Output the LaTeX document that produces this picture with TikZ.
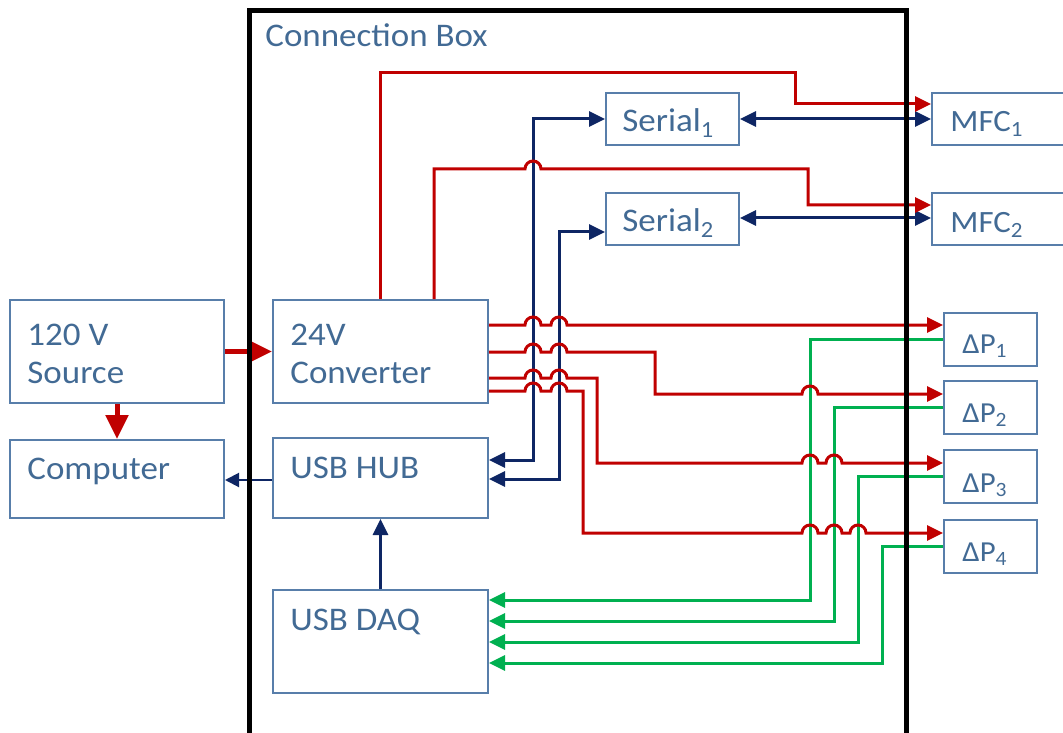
\documentclass[tikz,border=0pt]{standalone}
\usepackage{fontspec}
\setmainfont{Carlito}[FakeStretch=1.06]
\usetikzlibrary{arrows.meta}

\definecolor{boxline}{RGB}{88,126,170}
\definecolor{boxtext}{RGB}{66,106,148}
\definecolor{pwrred}{RGB}{192,0,0}
\definecolor{sigblue}{RGB}{14,38,100}
\definecolor{daqgreen}{RGB}{0,176,80}

\begin{document}
\begin{tikzpicture}[x=0.5pt,y=-0.5pt,
	>={Triangle[length=8pt,width=7.5pt]},
	blk/.style 2 args={draw=boxline,line width=1pt,inner sep=0pt,minimum width=#1,minimum height=#2},
	lbl/.style={text=boxtext,inner sep=0pt,align=left,font=\fontsize{16.5}{19}\selectfont},
	pwr/.style={draw=pwrred,line width=1.5pt},
	sig/.style={draw=sigblue,line width=1.5pt},
	meas/.style={draw=daqgreen,line width=1.5pt},
	hop/.style={insert path={arc[start angle=180,end angle=360,radius=8]}}]
	\useasboundingbox (0,0) rectangle (1063,732);
	\clip (0,0) rectangle (1063,732);

	% boxes
	\node[blk={107pt}{51.5pt}] (src) at (117,351.5) {};
	\node[blk={107pt}{39pt}] (comp) at (117,479) {};
	\node[blk={107.5pt}{51.5pt}] (conv) at (380.5,351.5) {};
	\node[blk={107.5pt}{40pt}] (hub) at (380.5,478) {};
	\node[blk={107.5pt}{51.5pt}] (daq) at (380.5,641.5) {};
	\node[blk={66.5pt}{26pt}] (ser1) at (672.5,119) {};
	\node[blk={66.5pt}{26pt}] (ser2) at (672.5,219) {};
	\node[blk={71pt}{26pt}] (mfc1) at (1003,119) {};
	\node[blk={71pt}{26pt}] (mfc2) at (1003,219) {};
	\node[blk={46.5pt}{26.5pt}] (dp1) at (990.5,339.5) {};
	\node[blk={46.5pt}{26.5pt}] (dp2) at (990.5,407.5) {};
	\node[blk={46.5pt}{26.5pt}] (dp3) at (990.5,476.5) {};
	\node[blk={46.5pt}{26.5pt}] (dp4) at (990.5,546) {};

	% labels
	\node[lbl,anchor=base west] (tbox) at (265,47) {Connection Box};
	\node[lbl,anchor=north west] (tsrc) at (27,324) {120 V\\Source};
	\node[lbl,anchor=base west] (tcomp) at (27,479) {Computer};
	\node[lbl,anchor=north west] (tconv) at (290,324) {24V\\Converter};
	\node[lbl,anchor=base west] (thub) at (290,478) {USB HUB};
	\node[lbl,anchor=base west] (tdaq) at (290,630) {USB DAQ};
	\node[lbl,anchor=base west] (tser1) at (622,132) {Serial\textsubscript{1}};
	\node[lbl,anchor=base west] (tser2) at (622,232) {Serial\textsubscript{2}};
	\node[lbl,anchor=base west,font=\fontsize{15.5}{18}\selectfont] (tmfc1) at (950,132) {MFC\textsubscript{1}};
	\node[lbl,anchor=base west,font=\fontsize{15.5}{18}\selectfont] (tmfc2) at (950,233) {MFC\textsubscript{2}};
	\node[lbl,anchor=base west,font=\fontsize{14.5}{17}\selectfont] (tdp1) at (962,353) {ΔP\textsubscript{1}};
	\node[lbl,anchor=base west,font=\fontsize{14.5}{17}\selectfont] (tdp2) at (962,422) {ΔP\textsubscript{2}};
	\node[lbl,anchor=base west,font=\fontsize{14.5}{17}\selectfont] (tdp3) at (962,492) {ΔP\textsubscript{3}};
	\node[lbl,anchor=base west,font=\fontsize{14.5}{17}\selectfont] (tdp4) at (962,561) {ΔP\textsubscript{4}};

	% usb / serial lines
	\draw[sig,<->] (hub.east |- 0,460) -| (533,119) -- (ser1.west);
	\draw[sig,<->] (hub.east |- 0,479) -| (559,232) -- (ser2.west |- 0,232);
	\draw[sig,<->] (ser1.east) -- (mfc1.west);
	\draw[sig,<->] (ser2.east |- 0,218) -- (mfc2.west |- 0,218);
	\draw[sig,line width=1pt,-{Triangle[length=7pt,width=7pt]}] (hub.west |- 0,480) -- (comp.east |- 0,480);
	\draw[sig,->] (daq.north) -- (hub.south);

	% pressure signals back to the daq
	\draw[meas,->] (dp1.west) -| (810,600) -- (daq.east |- 0,600);
	\draw[meas,->] (dp2.west) -| (834,621) -- (daq.east |- 0,621);
	\draw[meas,->] (dp3.west) -| (858,642) -- (daq.east |- 0,642);
	\draw[meas,->] (dp4.west) -| (882,663) -- (daq.east |- 0,663);

	% 24V supply lines
	\draw[pwr,->] (conv.north) -- (380.5,73) -| (795,104) -- (mfc1.west |- 0,104);
	\draw[pwr,->] (conv.north -| 434,0) -- (434,169) -- (525,169) [hop] -| (808,205) -- (mfc2.west |- 0,205);
	\draw[pwr,->] (conv.east |- 0,325) -- (525,325) [hop] -- (551,325) [hop] -- (dp1.west |- 0,325);
	\draw[pwr,->] (conv.east |- 0,352) -- (525,352) [hop] -- (551,352) [hop] -| (655,394) -- (802,394) [hop] -- (dp2.west |- 0,394);
	\draw[pwr,->] (conv.east |- 0,378) -- (525,378) [hop] -- (551,378) [hop] -| (597,463) -- (802,463) [hop] -- (826,463) [hop] -- (dp3.west |- 0,463);
	\draw[pwr,->] (conv.east |- 0,391) -- (525,391) [hop] -- (551,391) [hop] -| (583,533) -- (802,533) [hop] -- (826,533) [hop] -- (850,533) [hop] -- (dp4.west |- 0,533);

	% mains
	\draw[pwr,line width=2.5pt,-{Triangle[length=12pt,width=11pt]}] (src.east) -- (conv.west);
	\draw[pwr,line width=2.5pt,-{Triangle[length=12pt,width=11pt]}] (src.south) -- (comp.north);

	% connection box frame
	\draw[line width=2.5pt] (249,745) -- (249,11) -- (906,11) -- (906,745);
\end{tikzpicture}
\end{document}
